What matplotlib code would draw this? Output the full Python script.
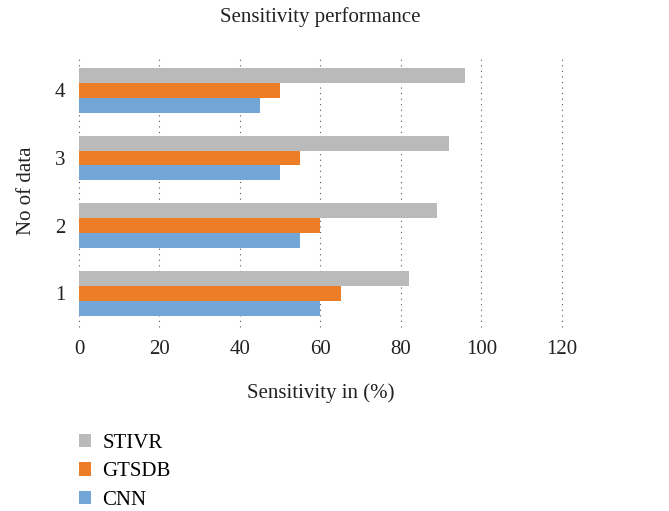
import matplotlib
matplotlib.use("Agg")
import matplotlib.pyplot as plt
import numpy as np

# Data.
categories = ["1", "2", "3", "4"]
series_names = ["CNN", "GTSDB", "STIVR"]
cnn = [60, 55, 50, 45]
gtsdb = [65, 60, 55, 50]
stivr = [82, 89, 92, 96]
colors = ["#72A6D6", "#ED7D26", "#BABABA"]

plt.rcParams["font.family"] = ["Liberation Serif", "DejaVu Serif"]

fig = plt.figure(figsize=(6.69, 5.11), dpi=100)
ax = fig.add_axes([0.118, 0.36, 0.722, 0.532])

y = np.arange(1, len(categories) + 1)
h = 0.22
bars = []
for i, (vals, c) in enumerate(zip([cnn, gtsdb, stivr], colors)):
    b = ax.barh(y + (i - 1) * h, vals, height=h, color=c, label=series_names[i], zorder=2)
    bars.append(b)

ax.set_xlim(0, 120)
ax.set_ylim(0.5, 4.52)
ax.set_xticks(range(0, 121, 20))
ax.set_yticks(y)
ax.set_yticklabels(categories)
ax.tick_params(length=0, labelsize=15, colors="#222222")
ax.tick_params(axis="x", pad=9)
ax.tick_params(axis="y", pad=10)
ax.grid(axis="x", linestyle=(0, (1, 4)), color="#555555", linewidth=0.8, zorder=0)
for gl in ax.get_xgridlines():
    gl.set_clip_on(False)
for s in ax.spines.values():
    s.set_visible(False)

ax.set_title("Sensitivity performance", fontsize=15, pad=24, color="#222222")
ax.set_xlabel("Sensitivity in (%)", fontsize=15, labelpad=18, color="#222222")
ax.set_ylabel("No of data", fontsize=15, labelpad=13, color="#222222")

fig.legend(handles=bars[::-1], loc="upper left", bbox_to_anchor=(0.105, 0.167),
           frameon=False, fontsize=15, handlelength=0.6, handleheight=0.6,
           labelspacing=0.45, handletextpad=0.55, borderaxespad=0)

fig.savefig("out.png", dpi=100)
